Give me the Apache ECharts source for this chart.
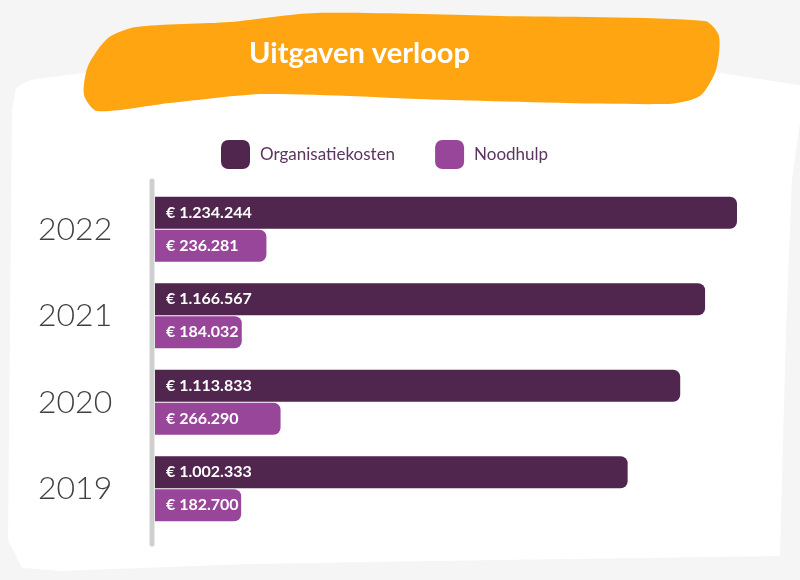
<!DOCTYPE html>
<html>
<head>
<meta charset="utf-8">
<title>Uitgaven verloop</title>
<script src="https://cdn.jsdelivr.net/npm/echarts@6/dist/echarts.min.js"></script>
<style>
  html,body{margin:0;padding:0;background:#f5f5f5;}
  #main{width:800px;height:580px;}
</style>
</head>
<body>
<div id="main"></div>
<script>
// data
var years = ['2022', '2021', '2020', '2019'];
var organisatiekosten = [1234244, 1166567, 1113833, 1002333];
var noodhulp = [236281, 184032, 266290, 182700];
var seriesNames = ['Organisatiekosten', 'Noodhulp'];

var darkPurple = '#50264f';
var lightPurple = '#98469a';

function euro(v){
    return '€ ' + String(v).replace(/\B(?=(\d{3})+(?!\d))/g, '.');
}

var chart = echarts.init(document.getElementById('main'));

var barLabel = {
    show: true,
    position: 'insideLeft',
    distance: 11,
    color: '#fff',
    fontFamily: 'Lato',
    fontWeight: 'bold',
    fontSize: 16,
    formatter: function(p){ return euro(p.value); }
};

var option = {
    backgroundColor: '#f5f5f5',
    animation: false,
    graphic: [
        // witte kaart
        {
            type: 'polygon',
            z: -10,
            shape: {
                points: [[12,110],[16,88],[30,80],[120,68],[300,58],[420,60],[600,66],[720,73],[805,86],
                         [792,180],[786,330],[780,556],[500,560],[250,564],[60,571],[22,568],[8,540]]
            },
            style: {fill: '#ffffff'}
        },
        // oranje titelvlak
        {
            type: 'polygon',
            z: -5,
            shape: {
                smooth: 0.25,
                points: [[84,95],[88,66],[108,38],[136,27],[230,22],[316,13],[500,16],[705,21],[719,36],
                         [716,70],[700,96],[668,104],[450,100],[265,94],[170,103],[97,111]]
            },
            style: {fill: '#ffa512'}
        },
        {
            type: 'text',
            z: 5,
            left: 249,
            top: 39,
            style: {
                text: 'Uitgaven verloop',
                fill: '#ffffff',
                font: 'bold 29px Lato'
            }
        },
        // verticale as
        {
            type: 'line',
            z: 5,
            shape: {x1: 152, y1: 181, x2: 152, y2: 544},
            style: {stroke: '#cfcfcf', lineWidth: 5, lineCap: 'round'}
        }
    ],
    legend: {
        data: seriesNames,
        top: 135,
        left: 216,
        itemWidth: 29,
        itemHeight: 29,
        itemGap: 40,
        icon: 'roundRect',
        textStyle: {
            color: '#5b3560',
            fontFamily: 'Lato',
            fontSize: 17,
            padding: [0, 0, 0, 5]
        }
    },
    grid: {
        left: 155,
        right: 32,
        top: 186,
        bottom: 48,
        containLabel: false
    },
    xAxis: {
        type: 'value',
        min: 0,
        max: 1300000,
        show: false
    },
    yAxis: {
        type: 'category',
        data: years,
        inverse: true,
        axisLine: {show: false},
        axisTick: {show: false},
        splitLine: {show: false},
        axisLabel: {
            align: 'left',
            margin: 117,
            padding: [8, 0, 0, 0],
            fontFamily: 'Lato',
            fontWeight: 300,
            fontSize: 32,
            color: '#404040'
        }
    },
    series: [
        {
            name: seriesNames[0],
            type: 'bar',
            data: organisatiekosten,
            barWidth: 32,
            barGap: '3%',
            itemStyle: {color: darkPurple, borderRadius: [0, 7, 7, 0]},
            label: barLabel
        },
        {
            name: seriesNames[1],
            type: 'bar',
            data: noodhulp,
            barWidth: 32,
            barGap: '3%',
            itemStyle: {color: lightPurple, borderRadius: [0, 7, 7, 0]},
            label: barLabel
        }
    ]
};

chart.setOption(option);
</script>
</body>
</html>
